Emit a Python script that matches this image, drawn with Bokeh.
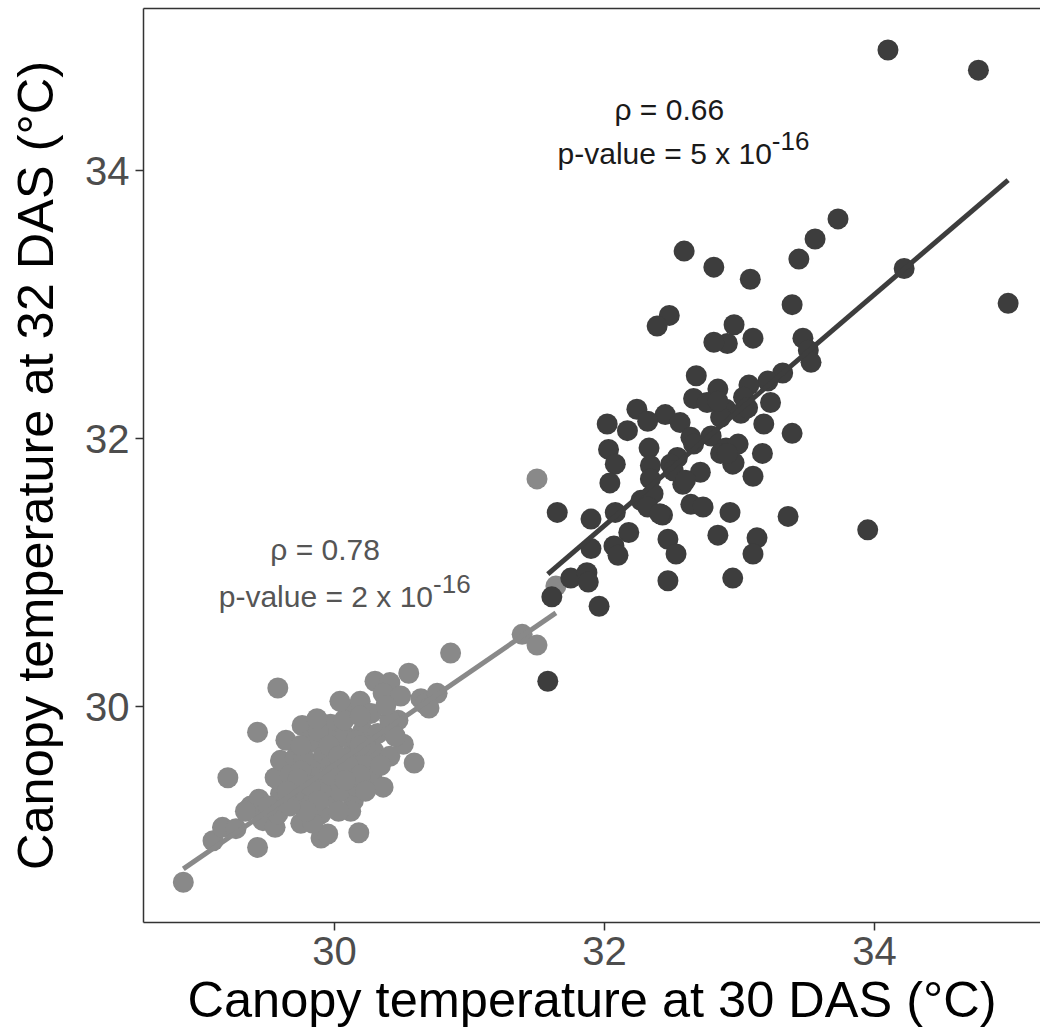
from bokeh.plotting import figure
from bokeh.models import Range1d, FixedTicker, LinearAxis, ColumnDataSource
from bokeh.embed import file_html
from bokeh.resources import INLINE
from bokeh.core.properties import value

# ---- data ----
gray_x = [28.88, 29.10, 29.17, 29.27, 29.21, 29.43, 29.58, 29.38, 29.44, 29.43, 29.47, 29.56, 29.58, 29.60,
          29.56, 29.60, 29.71, 29.76, 29.81, 29.84, 29.77, 29.80, 29.84, 29.75, 29.84, 29.90, 29.95, 29.90,
          29.84, 29.95, 29.99, 29.92, 29.82, 29.97, 30.04, 30.12, 30.14, 30.14, 30.12, 30.18, 30.10, 30.19,
          30.21, 30.27, 30.29, 30.32, 30.28, 30.36, 30.41, 30.47, 30.51, 30.59, 30.30, 30.41, 30.55, 30.36,
          30.49, 30.64, 30.67, 30.76, 30.86, 29.67, 29.71, 30.04, 30.01, 30.23, 30.08, 29.90, 29.64, 29.34,
          31.39, 31.50, 31.64, 31.50, 30.70, 30.07, 30.23, 29.97, 29.75, 30.16, 29.82, 30.41, 30.19,
          29.88, 29.96, 30.03, 30.10, 30.19, 29.97, 30.08, 30.23, 29.75, 29.88, 30.03, 29.79, 29.67,
          30.16, 30.38, 30.45, 30.34, 30.19, 30.04, 29.87, 29.73, 29.65, 29.51]
gray_y = [28.69, 29.00, 29.10, 29.09, 29.47, 29.81, 30.14, 29.26, 29.31, 28.95, 29.15, 29.10, 29.20, 29.35,
          29.47, 29.60, 29.62, 29.86, 29.73, 29.57, 29.62, 29.32, 29.47, 29.13, 29.22, 29.02, 29.05, 29.20,
          29.13, 29.43, 29.32, 29.65, 29.75, 29.87, 29.54, 29.50, 29.67, 29.30, 29.22, 29.06, 29.97, 30.04,
          29.82, 29.95, 29.67, 29.80, 29.46, 29.40, 29.63, 29.90, 29.72, 29.58, 30.19, 30.18, 30.25, 30.10,
          30.08, 30.06, 30.02, 30.10, 30.40, 29.49, 29.37, 29.37, 29.75, 29.60, 29.78, 29.37, 29.75, 29.22,
          30.54, 30.46, 30.90, 31.70, 29.99, 29.90, 29.71, 29.56, 29.52, 29.41, 29.41, 29.90, 29.93,
          29.82, 29.71, 29.63, 29.56, 29.49, 29.49, 29.45, 29.37, 29.71, 29.30, 29.22, 29.22, 29.26,
          29.75, 30.01, 29.78, 29.56, 29.71, 30.04, 29.91, 29.46, 29.37, 29.26]

dark_x = [34.10, 34.77, 33.73, 33.56, 33.44, 32.59, 32.81, 33.08, 33.39, 34.22, 34.99,
          32.48, 32.39, 32.96, 32.91, 32.81, 33.10, 33.47, 33.51, 33.53, 33.32, 33.21,
          32.68, 32.84, 33.07, 32.66, 32.76, 32.90, 33.03, 33.23, 33.18, 33.39, 33.01,
          32.24, 32.02, 32.17, 32.45, 32.56, 32.32, 32.64, 32.79, 32.90, 32.99, 33.17,
          32.95, 33.10, 32.71, 32.54, 32.49, 32.33, 32.34, 32.34, 32.58, 32.03, 32.08,
          32.04, 32.08, 32.27, 32.43, 32.64, 32.73, 32.93, 32.84, 33.13, 33.10, 33.36,
          33.95, 32.47, 32.53, 32.47, 32.95, 32.18, 32.07, 32.10, 32.36, 31.65, 31.90,
          31.90, 31.75, 31.87, 31.88, 31.61, 31.96, 31.58, 32.86, 32.96, 32.86, 32.32,
          32.51, 32.60, 32.66, 32.91, 32.84, 33.06, 32.41]
dark_y = [34.90, 34.75, 33.64, 33.49, 33.34, 33.40, 33.28, 33.19, 33.00, 33.27, 33.01,
          32.92, 32.84, 32.85, 32.71, 32.72, 32.75, 32.75, 32.66, 32.57, 32.49, 32.43,
          32.47, 32.37, 32.40, 32.30, 32.27, 32.22, 32.31, 32.27, 32.11, 32.04, 32.19,
          32.22, 32.11, 32.06, 32.18, 32.12, 32.13, 32.01, 32.02, 31.93, 31.96, 31.89,
          31.81, 31.72, 31.75, 31.86, 31.81, 31.93, 31.80, 31.70, 31.66, 31.92, 31.81,
          31.67, 31.45, 31.54, 31.43, 31.51, 31.49, 31.45, 31.28, 31.26, 31.14, 31.42,
          31.32, 31.25, 31.14, 30.94, 30.96, 31.30, 31.20, 31.13, 31.59, 31.45, 31.40,
          31.18, 30.96, 31.00, 30.93, 30.82, 30.75, 30.19, 32.16, 31.82, 31.89, 31.49,
          31.76, 31.69, 31.96, 31.89, 32.28, 32.23, 31.44]

# linear fit lines (end points)
gray_fit_x = [28.88, 31.64]
gray_fit_y = [28.79, 30.70]
dark_fit_x = [31.58, 34.99]
dark_fit_y = [30.99, 33.93]

x_ticks = [30, 32, 34]
y_ticks = [30, 32, 34]

x_title = "Canopy temperature at 30 DAS (°C)"
y_title = "Canopy temperature at 32 DAS (°C)"

dark_rho = "ρ = 0.66"
dark_p = "p-value = 5 x 10"
dark_exp = "-16"
gray_rho = "ρ = 0.78"
gray_p = "p-value = 2 x 10"
gray_exp = "-16"

GRAY = "#898989"
DARK = "#3d3d3d"
FONT = "Liberation Sans"

p = figure(width=1040, height=1033, output_backend="svg", toolbar_location=None,
           x_range=Range1d(28.585, 35.23), y_range=Range1d(28.39, 35.21),
           min_border_left=143, min_border_right=0, min_border_top=8, min_border_bottom=111)
p.outline_line_color = None
p.background_fill_color = "white"
p.border_fill_color = "white"
p.xgrid.grid_line_color = None
p.ygrid.grid_line_color = None

for ax, ticks in ((p.xaxis[0], x_ticks), (p.yaxis[0], y_ticks)):
    ax.ticker = FixedTicker(ticks=ticks)
    ax.axis_line_color = "#333333"
    ax.axis_line_width = 1.5
    ax.major_tick_line_color = "#333333"
    ax.major_tick_line_width = 1.5
    ax.major_tick_out = 8
    ax.major_tick_in = 0
    ax.minor_tick_line_color = None
    ax.major_label_text_font = FONT
    ax.major_label_text_font_size = "40px"
    ax.major_label_text_color = "#4d4d4d"
    ax.axis_label_text_font = FONT
    ax.axis_label_text_font_size = "50.5px"
    ax.axis_label_text_font_style = "normal"
    ax.axis_label_text_color = "black"

p.xaxis[0].axis_label = x_title
p.yaxis[0].axis_label = y_title
p.xaxis[0].major_label_standoff = 6
p.xaxis[0].axis_label_standoff = 3
p.yaxis[0].major_label_standoff = 6
p.yaxis[0].axis_label_standoff = 18

top = LinearAxis(ticker=FixedTicker(ticks=[]), axis_line_color="#333333", axis_line_width=1.5,
                 major_tick_line_color=None, minor_tick_line_color=None,
                 major_label_text_font_size="0px")
p.add_layout(top, "above")

gsrc = ColumnDataSource(dict(x=gray_x, y=gray_y))
dsrc = ColumnDataSource(dict(x=dark_x, y=dark_y))
p.scatter("x", "y", source=gsrc, size=21, fill_color=GRAY, line_color=None)
p.scatter("x", "y", source=dsrc, size=21, fill_color=DARK, line_color=None)
p.line(gray_fit_x, gray_fit_y, line_color=GRAY, line_width=5)
p.line(dark_fit_x, dark_fit_y, line_color=DARK, line_width=5)

# annotations
def annot(x_rho, y_rho, x_p, y_p, rho, pv, ex, color):
    p.text(x=[x_rho], y=[y_rho], text=[rho], text_font=value(FONT), text_font_size="30px",
           text_align="center", text_baseline="alphabetic", text_color=color)
    p.text(x=[x_p], y=[y_p], text=[pv], text_font=value(FONT), text_font_size="30px",
           text_align="right", text_baseline="alphabetic", text_color=color)
    p.text(x=[x_p], y=[y_p], text=[ex], text_font=value(FONT), text_font_size="26px",
           text_align="left", text_baseline="alphabetic", text_color=color, y_offset=-12)

annot(32.48, 34.455, 33.24, 34.13, dark_rho, dark_p, dark_exp, "#1a1a1a")
annot(29.93, 31.175, 30.73, 30.825, gray_rho, gray_p, gray_exp, "#555555")

open("out.html", "w").write(file_html(p, INLINE))
